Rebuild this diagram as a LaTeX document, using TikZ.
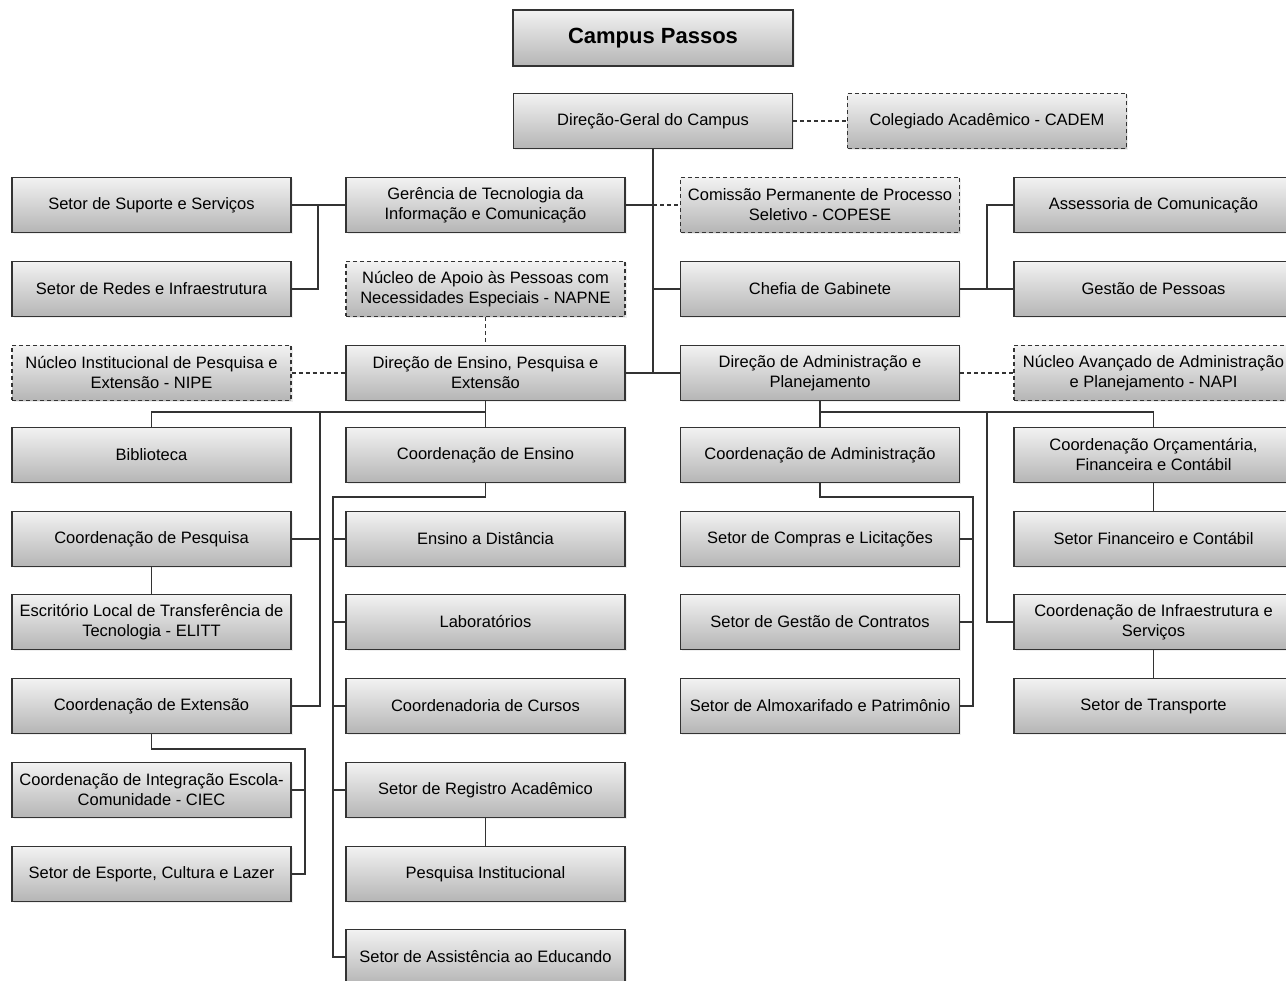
\documentclass[tikz,border=0pt]{standalone}
\usepackage{fontspec}
\setmainfont{Liberation Sans}
\usetikzlibrary{shadows}

\begin{document}
\begin{tikzpicture}[x=1pt,y=-1pt,
    box/.style={draw=black!80, line width=1.1pt, top color=gray!10, bottom color=gray!58,
      minimum width=279pt, minimum height=55pt, inner sep=0pt, align=center,
      font=\fontsize{16.5}{20}\selectfont,
      drop shadow={opacity=0.12, shadow xshift=1.5pt, shadow yshift=-1.5pt}},
    dbox/.style={box, dash pattern=on 4pt off 3pt},
    link/.style={draw=black!80, line width=1.1pt},
    dlink/.style={link, dash pattern=on 4pt off 3pt}]
  \path[use as bounding box, fill=white] (0,0) rectangle (1286,981);

  \node[box, minimum width=280pt, minimum height=56pt, font=\fontsize{22}{26}\selectfont\bfseries] (campus) at (653,38) {Campus Passos};
  \node[box] (dgc) at (653,121) {Direção-Geral do Campus};
  \node[dbox] (cadem) at (987,121) {Colegiado Acadêmico - CADEM};

  \node[box] (ssup) at (151.5,205) {Setor de Suporte e Serviços};
  \node[box] (gtic) at (485.5,205) {Gerência de Tecnologia da\\Informação e Comunicação};
  \node[dbox] (copese) at (820,205) {Comissão Permanente de Processo\\Seletivo - COPESE};
  \node[box] (ascom) at (1153.5,205) {Assessoria de Comunicação};

  \node[box] (sredes) at (151.5,289) {Setor de Redes e Infraestrutura};
  \node[dbox] (napne) at (485.5,289) {Núcleo de Apoio às Pessoas com\\Necessidades Especiais - NAPNE};
  \node[box] (chefia) at (820,289) {Chefia de Gabinete};
  \node[box] (gp) at (1153.5,289) {Gestão de Pessoas};

  \node[dbox] (nipe) at (151.5,373) {Núcleo Institucional de Pesquisa e\\Extensão - NIPE};
  \node[box] (dep) at (485.5,373) {Direção de Ensino, Pesquisa e\\Extensão};
  \node[box] (dap) at (820,373) {Direção de Administração e\\Planejamento};
  \node[dbox] (napi) at (1153.5,373) {Núcleo Avançado de Administração\\e Planejamento - NAPI};

  \foreach \n/\y/\t in {bib/455/Biblioteca, cpesq/539/Coordenação de Pesquisa,
      elitt/622/{Escritório Local de Transferência de\\Tecnologia - ELITT},
      cext/706/Coordenação de Extensão,
      ciec/790/{Coordenação de Integração Escola-\\Comunidade - CIEC},
      sesp/874/{Setor de Esporte, Cultura e Lazer}}
    \node[box] (\n) at (151.5,\y) {\t};
  \foreach \n/\y/\t in {cens/455/Coordenação de Ensino, ead/539/Ensino a Distância,
      lab/622/Laboratórios, ccur/706/Coordenadoria de Cursos,
      sra/790/Setor de Registro Acadêmico, pinst/874/Pesquisa Institucional,
      sae/957/Setor de Assistência ao Educando}
    \node[box] (\n) at (485.5,\y) {\t};
  \foreach \n/\y/\t in {cadm/455/Coordenação de Administração,
      scl/539/Setor de Compras e Licitações, sgc/622/Setor de Gestão de Contratos,
      sap/706/Setor de Almoxarifado e Patrimônio}
    \node[box] (\n) at (820,\y) {\t};
  \foreach \n/\y/\t in {cofc/455/{Coordenação Orçamentária,\\Financeira e Contábil},
      sfc/539/Setor Financeiro e Contábil,
      cis/622/{Coordenação de Infraestrutura e\\Serviços}, stra/706/Setor de Transporte}
    \node[box] (\n) at (1153.5,\y) {\t};

  \coordinate (ti) at (318,205);
  \coordinate (cg) at (987,289);
  \coordinate (busl) at (485.5,412);
  \coordinate (vl) at (320,412);
  \coordinate (ve) at (333,497);
  \coordinate (vx) at (305,749);
  \coordinate (busr) at (820,412);
  \coordinate (vr) at (987,412);
  \coordinate (va) at (973,497);

  \draw[link] (dgc.south) -- (dgc.south |- dep.east);
  \draw[link] (gtic.east) -- (gtic.east -| dgc.south);
  \draw[dlink] (gtic.east -| dgc.south) -- (copese.west);
  \draw[link] (chefia.west) -- (chefia.west -| dgc.south);
  \draw[link] (dep.east) -- (dap.west);
  \draw[dlink] (dgc.east) -- (cadem.west);
  \draw[link] (gtic.west) -- (ssup.east);
  \draw[link] (ti) |- (sredes.east);
  \draw[link] (chefia.east) -- (gp.west);
  \draw[link] (cg) |- (ascom.west);
  \draw[dlink] (napne.south) -- (dep.north);
  \draw[dlink] (nipe.east) -- (dep.west);
  \draw[dlink] (dap.east) -- (napi.west);

  \draw[link] (dep.south) -- (cens.north);
  \draw[link] (bib.north) |- (busl);
  \draw[link] (vl) |- (cext.east);
  \draw[link] (cpesq.east) -- (cpesq.east -| vl);
  \draw[link] (cpesq.south) -- (elitt.north);
  \draw[link] (cext.south) |- (vx) |- (sesp.east);
  \draw[link] (ciec.east) -- (ciec.east -| vx);
  \draw[link] (cens.south) |- (ve) |- (sae.west);
  \foreach \n in {ead,lab,ccur,sra}
    \draw[link] (\n.west) -- (\n.west -| ve);
  \draw[link] (sra.south) -- (pinst.north);

  \draw[link] (dap.south) -- (cadm.north);
  \draw[link] (busr) -| (cofc.north);
  \draw[link] (vr) |- (cis.west);
  \draw[link] (cadm.south) |- (va) |- (sap.east);
  \foreach \n in {scl,sgc}
    \draw[link] (\n.east) -- (\n.east -| va);
  \draw[link] (cofc.south) -- (sfc.north);
  \draw[link] (cis.south) -- (stra.north);
\end{tikzpicture}
\end{document}
